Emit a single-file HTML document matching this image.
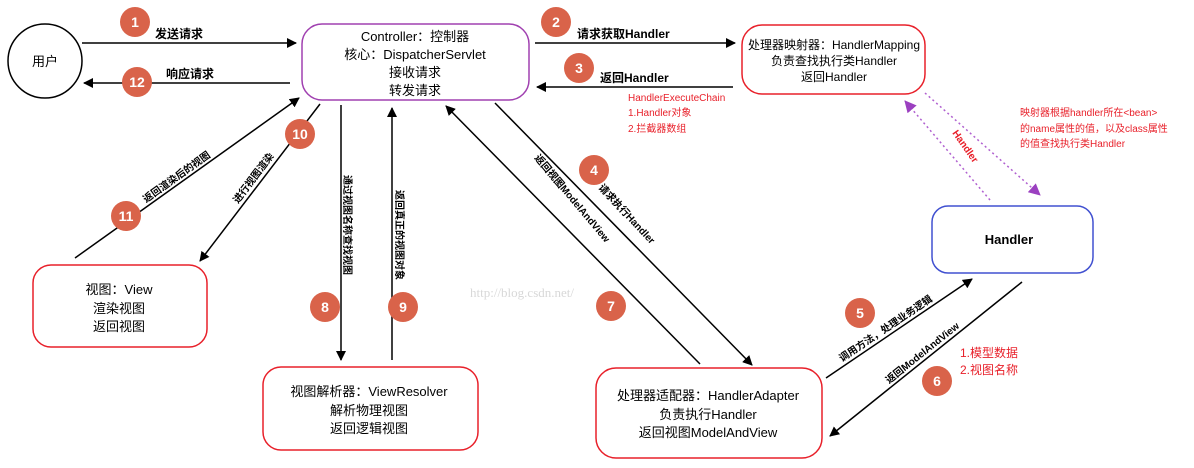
<!DOCTYPE html>
<html><head><meta charset="utf-8"><style>
html,body{margin:0;padding:0;background:#fff;}
svg{display:block;font-family:"Liberation Sans","Noto Sans CJK SC",sans-serif;}
.b{font-weight:bold;}
</style></head><body>
<svg width="1194" height="468" viewBox="0 0 1194 468" xmlns="http://www.w3.org/2000/svg">
<defs>
<marker id="a" markerWidth="10" markerHeight="10" refX="9" refY="5" orient="auto" markerUnits="userSpaceOnUse"><path d="M0,0 L10,5 L0,10 z" fill="#000"/></marker>
<marker id="p" markerWidth="12" markerHeight="12" refX="11" refY="6" orient="auto" markerUnits="userSpaceOnUse"><path d="M0,0 L12,6 L0,12 z" fill="#9b40c0"/></marker>
</defs>
<circle cx="45" cy="61" r="37" fill="#fff" stroke="#000" stroke-width="1.5"/>
<text x="45" y="66" font-size="13" text-anchor="middle">用户</text>
<rect x="302" y="24" width="227" height="76" rx="20" fill="#fff" stroke="#a040b0" stroke-width="1.5"/>
<g font-size="13" text-anchor="middle"><text x="415" y="41">Controller：控制器</text><text x="415" y="59">核心：DispatcherServlet</text><text x="415" y="77">接收请求</text><text x="415" y="95">转发请求</text></g>
<rect x="742" y="25" width="183" height="69" rx="20" fill="#fff" stroke="#e8202a" stroke-width="1.5"/>
<g font-size="12" text-anchor="middle"><text x="834" y="49">处理器映射器：HandlerMapping</text><text x="834" y="65">负责查找执行类Handler</text><text x="834" y="81">返回Handler</text></g>
<rect x="932" y="206" width="161" height="67" rx="16" fill="#fff" stroke="#4050d0" stroke-width="1.5"/>
<text x="1009" y="244" font-size="13" text-anchor="middle" class="b">Handler</text>
<rect x="33" y="265" width="174" height="82" rx="18" fill="#fff" stroke="#e8202a" stroke-width="1.5"/>
<g font-size="13" text-anchor="middle"><text x="119" y="294">视图：View</text><text x="119" y="313">渲染视图</text><text x="119" y="331">返回视图</text></g>
<rect x="263" y="367" width="215" height="83" rx="18" fill="#fff" stroke="#e8202a" stroke-width="1.5"/>
<g font-size="13" text-anchor="middle"><text x="369" y="396">视图解析器：ViewResolver</text><text x="369" y="415">解析物理视图</text><text x="369" y="433">返回逻辑视图</text></g>
<rect x="596" y="368" width="226" height="90" rx="20" fill="#fff" stroke="#e8202a" stroke-width="1.5"/>
<g font-size="13" text-anchor="middle"><text x="708" y="400">处理器适配器：HandlerAdapter</text><text x="708" y="419">负责执行Handler</text><text x="708" y="437">返回视图ModelAndView</text></g>

<g stroke="#000" stroke-width="1.5" fill="none" marker-end="url(#a)">
<line x1="82" y1="43" x2="296" y2="43"/>
<line x1="290" y1="83" x2="84" y2="83"/>
<line x1="535" y1="43" x2="735" y2="43"/>
<line x1="733" y1="87" x2="537" y2="87"/>
<line x1="495" y1="103" x2="752" y2="365"/>
<line x1="700" y1="364" x2="446" y2="106"/>
<line x1="320" y1="104" x2="200" y2="261"/>
<line x1="75" y1="258" x2="299" y2="98"/>
<line x1="341" y1="105" x2="341" y2="360"/>
<line x1="392" y1="360" x2="392" y2="108"/>
<line x1="826" y1="378" x2="972" y2="279"/>
<line x1="1022" y1="282" x2="830" y2="436"/>
</g>
<g stroke="#b060d0" stroke-width="1.5" stroke-dasharray="2,3" fill="none" marker-end="url(#p)">
<line x1="990" y1="200" x2="905" y2="101"/>
<line x1="925" y1="93" x2="1040" y2="195"/>
</g>

<g font-size="12" class="b">
<text x="155" y="38">发送请求</text>
<text x="166" y="78">响应请求</text>
<text x="577" y="38">请求获取Handler</text>
<text x="600" y="82">返回Handler</text>
</g>
<g font-size="10" fill="#e8202a"><text x="628" y="101">HandlerExecuteChain</text><text x="628" y="116">1.Handler对象</text><text x="628" y="132">2.拦截器数组</text></g>
<g font-size="10" fill="#e8202a"><text x="1020" y="116">映射器根据handler所在&lt;bean&gt;</text><text x="1020" y="132">的name属性的值，以及class属性</text><text x="1020" y="147">的值查找执行类Handler</text></g>
<text x="0" y="0" font-size="10" fill="#e8202a" class="b" transform="translate(952,133) rotate(55)">Handler</text>
<g font-size="12" fill="#e8202a"><text x="960" y="357">1.模型数据</text><text x="960" y="374">2.视图名称</text></g>

<g font-size="10" class="b">
<text transform="translate(598,188) rotate(47)">请求执行Handler</text>
<text transform="translate(534,158) rotate(50)">返回视图ModelAndView</text>
<text transform="translate(238,204) rotate(-53)">进行视图渲染</text>
<text transform="translate(146,203) rotate(-35.6)">返回渲染后的视图</text>
<text transform="translate(344,175) rotate(90)">通过视图名称查找视图</text>
<text transform="translate(396,190) rotate(90)">返回真正的视图对象</text>
<text transform="translate(842,362) rotate(-34)">调用方法，处理业务逻辑</text>
<text transform="translate(889,384) rotate(-38.7)">返回ModelAndView</text>
</g>
<text x="470" y="297" font-size="13" fill="#d8d8d8" font-family="Liberation Serif,serif">http://blog.csdn.net/</text>

<g fill="#d9634a">
<circle cx="135" cy="22" r="15"/><circle cx="137" cy="82" r="15"/><circle cx="556" cy="22" r="15"/><circle cx="579" cy="68" r="15"/>
<circle cx="594" cy="170" r="15"/><circle cx="611" cy="306" r="15"/><circle cx="300" cy="134" r="15"/><circle cx="126" cy="216" r="15"/>
<circle cx="325" cy="307" r="15"/><circle cx="403" cy="307" r="15"/><circle cx="860" cy="313" r="15"/><circle cx="937" cy="381" r="15"/>
</g>
<g fill="#fff" font-size="14" class="b" text-anchor="middle">
<text x="135" y="27">1</text><text x="137" y="87">12</text><text x="556" y="27">2</text><text x="579" y="73">3</text>
<text x="594" y="175">4</text><text x="611" y="311">7</text><text x="300" y="139">10</text><text x="126" y="221">11</text>
<text x="325" y="312">8</text><text x="403" y="312">9</text><text x="860" y="318">5</text><text x="937" y="386">6</text>
</g>
</svg>
</body></html>
